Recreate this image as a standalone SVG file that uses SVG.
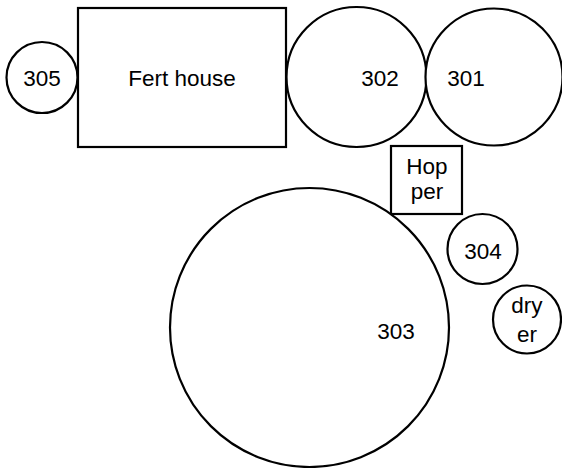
<svg xmlns="http://www.w3.org/2000/svg" width="562" height="468" viewBox="0 0 562 468">
<style>
.s{fill:#fff;stroke:#000;stroke-width:2.2}
text{font-family:"Liberation Sans",Arial,sans-serif;font-size:22.5px;text-anchor:middle;fill:#000}
</style>
<rect width="562" height="468" fill="#fff"/>
<g id="connectors"></g>
<g id="n305"><circle class="s" cx="42" cy="77.5" r="35.5"/><text x="42" y="85.5">305</text></g>
<g id="fert"><rect class="s" x="78" y="8" width="208" height="139"/><text x="182" y="85.5">Fert house</text></g>
<g id="n302"><circle class="s" cx="356.5" cy="77" r="70"/><text x="380" y="85.5">302</text></g>
<g id="n301"><circle class="s" cx="494" cy="77" r="68.5"/><text x="466" y="85.5">301</text></g>
<g id="hopper"><rect class="s" x="391" y="146" width="71" height="68"/><text x="427" y="174">Hop</text><text x="427" y="199">per</text></g>
<g id="n303"><circle class="s" cx="309.5" cy="327.5" r="139.5"/><text x="396" y="339">303</text></g>
<g id="n304"><circle class="s" cx="482.5" cy="249" r="35"/><text x="483" y="259">304</text></g>
<g id="dryer"><circle class="s" cx="527" cy="319.5" r="34"/><text x="527" y="313">dry</text><text x="527" y="342">er</text></g>
</svg>
